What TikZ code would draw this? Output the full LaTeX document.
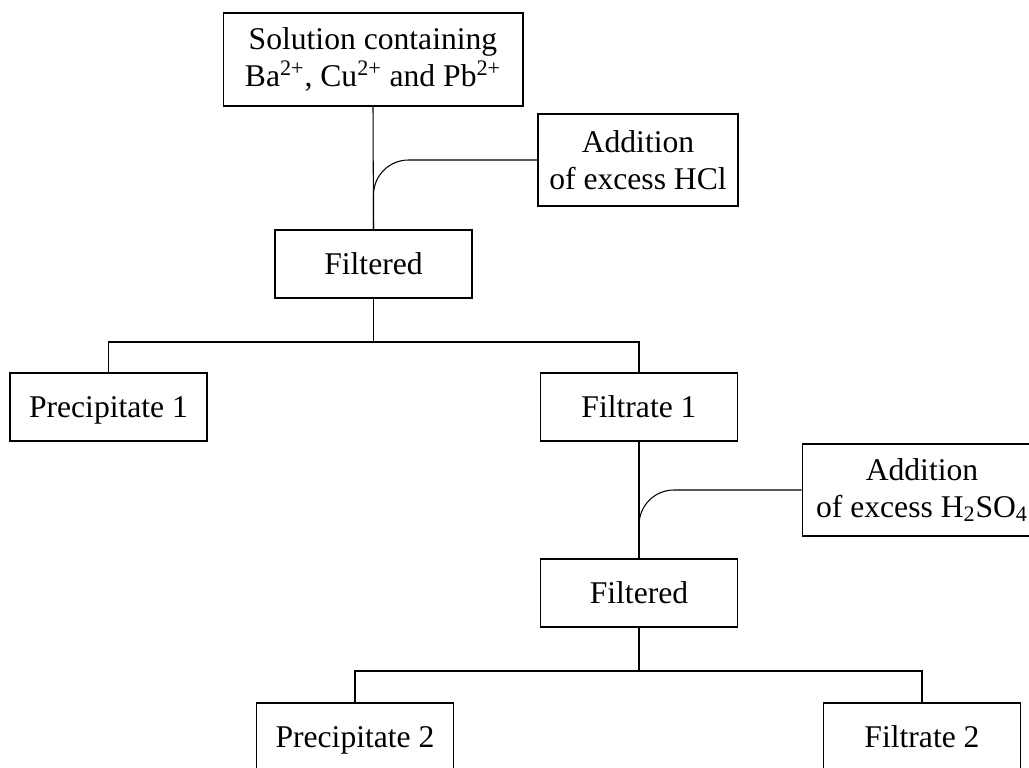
\documentclass[tikz,border=0pt]{standalone}
\usepackage{fontspec}
\setmainfont{Liberation Serif}

\begin{document}
\begin{tikzpicture}[x=0.02cm, y=-0.02cm,
flowbox/.style={rectangle, draw=black, line width=0.6pt, inner sep=0pt, align=center, minimum width=3.94cm, minimum height=1.36cm, font=\fontsize{18}{21}\selectfont},
labelbox/.style={flowbox, text height=16pt, text depth=3.6pt},
]
\useasboundingbox (0,0) rectangle (1029,768);
%Nodes
\node[flowbox, minimum width=6cm, minimum height=1.86cm] at (373, 59.5) (solution) {Solution containing\\Ba\textsuperscript{2+}, Cu\textsuperscript{2+} and Pb\textsuperscript{2+}};
\node[flowbox, minimum width=4cm, minimum height=1.84cm] at (638, 160) (additionhcl) {Addition\\of excess HCl};
\node[labelbox] at (373.5, 264) (filtered1) {Filtered};
\node[labelbox] at (108.5, 407) (precipitate1) {Precipitate 1};
\node[labelbox] at (639, 407) (filtrate1) {Filtrate 1};
\node[flowbox, minimum width=4.8cm, minimum height=1.84cm] at (922, 490) (additionacid) {Addition\\of excess H\textsubscript{2}SO\textsubscript{4}};
\node[labelbox] at (639, 593) (filtered2) {Filtered};
\node[labelbox] at (355, 737) (precipitate2) {Precipitate 2};
\node[labelbox] at (922, 737) (filtrate2) {Filtrate 2};

%Lines
\draw[line width=0.6pt] (solution.south) -- (filtered1.north);
\draw[line width=0.6pt, rounded corners=0.7cm] (additionhcl.west) -| (filtered1.north);
\draw[line width=0.6pt] (filtered1.south) -- (373.5, 342) coordinate (split1);
\draw[line width=0.6pt] (split1) -| (precipitate1.north);
\draw[line width=0.6pt] (split1) -| (filtrate1.north);
\draw[line width=0.6pt] (filtrate1.south) -- (filtered2.north);
\draw[line width=0.6pt, rounded corners=0.7cm] (additionacid.west) -| (filtered2.north);
\draw[line width=0.6pt] (filtered2.south) -- (639, 671) coordinate (split2);
\draw[line width=0.6pt] (split2) -| (precipitate2.north);
\draw[line width=0.6pt] (split2) -| (filtrate2.north);

\end{tikzpicture}
\end{document}
